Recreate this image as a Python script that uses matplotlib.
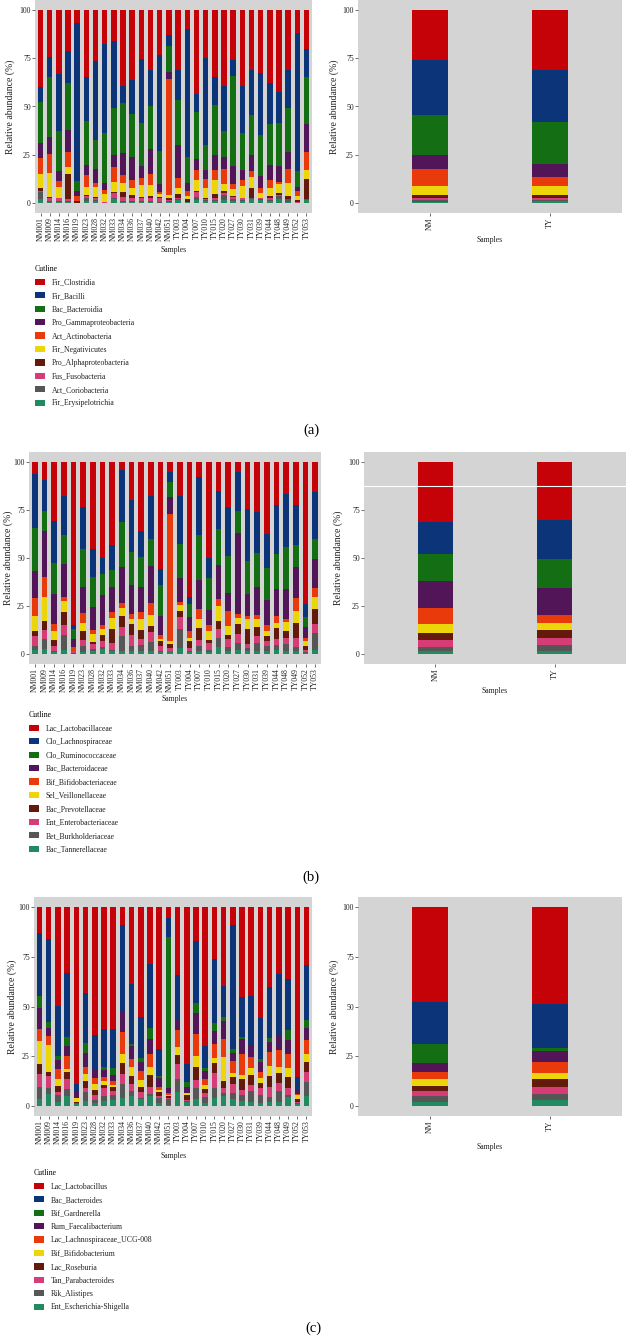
import numpy as np
import matplotlib
matplotlib.use('Agg')
import matplotlib.pyplot as plt

plt.rcParams['font.family'] = ['Liberation Serif', 'DejaVu Serif']

W, H = 626, 1337

samples = ["NM001", "NM009", "NM014", "NM016", "NM019", "NM023", "NM028", "NM032",
           "NM033", "NM034", "NM036", "NM037", "NM040", "NM042", "NM051",
           "TY003", "TY004", "TY007", "TY010", "TY015", "TY020", "TY027", "TY030",
           "TY031", "TY039", "TY044", "TY048", "TY049", "TY052", "TY053"]
groups = ["NM", "TY"]

# legend order (top of stack first)
colors = ["#C40207", "#0B3479", "#146E14", "#511558", "#E83A0A",
          "#ECD60A", "#631A0A", "#D63C76", "#565656", "#228A61"]

class_taxa = ["Fir_Clostridia", "Fir_Bacilli", "Bac_Bacteroidia", "Pro_Gammaproteobacteria",
              "Act_Actinobacteria", "Fir_Negativicutes", "Pro_Alphaproteobacteria",
              "Fus_Fusobacteria", "Act_Coriobacteria", "Fir_Erysipelotrichia"]
family_taxa = ["Lac_Lactobacillaceae", "Clo_Lachnospiraceae", "Clo_Ruminococcaceae",
               "Bac_Bacteroidaceae", "Bif_Bifidobacteriaceae", "Sel_Veillonellaceae",
               "Bac_Prevotellaceae", "Ent_Enterobacteriaceae", "Bet_Burkholderiaceae",
               "Bac_Tannerellaceae"]
genus_taxa = ["Lac_Lactobacillus", "Bac_Bacteroides", "Bif_Gardnerella", "Rum_Faecalibacterium",
              "Lac_Lachnospiraceae_UCG-008", "Bif_Bifidobacterium", "Lac_Roseburia",
              "Tan_Parabacteroides", "Rik_Alistipes", "Ent_Escherichia-Shigella"]

# rows = samples, values listed from the bottom of the stack (last taxon) up to the first taxon
class_rows = [
    [2, 4, 0.5, 1.5, 7, 8.5, 7.5, 21.5, 7.5, 40],
    [0.5, 0.5, 2, 0.3, 12.2, 10, 9, 30.5, 10.5, 24.5],
    [0.5, 0.5, 1.5, 0.5, 5.5, 3, 5, 21, 29.5, 33],
    [0.5, 0.5, 1, 13, 3.5, 8, 11.5, 24, 16.5, 21.5],
    [0, 0, 0.3, 0.7, 0, 3, 2.5, 5, 81.5, 7],
    [1, 2, 1, 0.5, 4, 6, 5.5, 22.5, 22.5, 35],
    [1, 0.5, 1.5, 0.5, 5, 2, 7, 15, 41, 26.5],
    [0, 0.3, 0.2, 0.2, 4.3, 2, 3.5, 26, 46, 17.5],
    [2, 0.5, 3, 0.5, 5, 8, 6, 24, 35, 16],
    [0.5, 0.5, 2.5, 2.5, 4.5, 4, 11.5, 26, 8.5, 39.5],
    [0.5, 0.5, 1.5, 2, 3.5, 4, 12, 22, 17.5, 36.5],
    [0.5, 0.5, 2, 0.5, 6, 3.5, 6.5, 22, 33, 25.5],
    [0.5, 0.5, 2, 1, 5.5, 5.5, 13, 22.5, 18.5, 31],
    [0, 0.5, 2.5, 0.5, 1.5, 1, 4, 17, 49.5, 23.5],
    [0.5, 0.5, 0.5, 1, 2, 59.5, 4, 13, 6, 13],
    [1.5, 0.5, 1, 2, 3, 5, 17, 23.5, 15.5, 31],
    [0.5, 0, 0, 1.5, 2, 2.5, 4, 13.5, 66, 10],
    [1.5, 2, 2.5, 0.5, 5.5, 5, 6, 24, 9.5, 43.5],
    [1, 0.5, 0.5, 0.5, 5.5, 4.5, 4.5, 13, 45, 25],
    [1, 0.5, 1, 2.5, 7, 5, 8, 26, 14, 35],
    [1.5, 3, 1, 1, 3.5, 7.5, 6.5, 13.5, 23, 39.5],
    [1, 1, 1.5, 0.5, 3.5, 2.5, 9.5, 46.5, 8, 26],
    [1, 0.5, 1, 0.5, 6, 3, 5, 19.5, 24, 39.5],
    [2, 0.5, 0.5, 5, 5.5, 3, 8.5, 20.5, 23.5, 31],
    [1.5, 0.5, 0.5, 0.5, 2.5, 2.5, 6, 21.5, 32, 32.5],
    [1, 0.5, 1.5, 1, 4, 4, 8, 21, 21, 38],
    [2, 2, 0.5, 1, 4.5, 1, 8.5, 22, 16, 42.5],
    [0.5, 1.5, 0, 2, 6.5, 7, 9, 22.5, 20, 31],
    [0, 0, 0.5, 1, 2.5, 2.5, 2, 8, 71.5, 12],
    [1.5, 0.5, 0, 10.5, 4.5, 9.5, 14.5, 24, 14.5, 20.5],
]
class_group_rows = [
    [0.5, 1, 1.5, 1.5, 4.5, 8.5, 7.5, 20.5, 28.5, 26],
    [1, 0.5, 1, 2, 4.5, 4.5, 7, 21.5, 27, 31],
]

family_rows = [
    [2.5, 2, 5, 2.5, 8, 9, 14.5, 22, 28, 6.5],
    [3, 5, 4.5, 5, 12.5, 10, 24, 10.5, 16, 9.5],
    [1, 0.5, 3, 3, 4.5, 3.5, 16, 16, 21.5, 31],
    [2.5, 7.5, 5, 7, 5.5, 2.5, 17, 15, 20, 18],
    [0, 0.5, 1, 0.5, 0, 2, 4, 5, 2, 85],
    [1, 3.5, 3, 4.5, 4.5, 5, 13.5, 19.5, 22, 23.5],
    [1.5, 1.5, 2.5, 1, 4, 2, 12, 15.5, 14.5, 45.5],
    [3, 1, 3, 3, 3, 2, 16, 10.5, 8.5, 50],
    [1.5, 1, 3.5, 7, 6, 3, 13, 9, 13, 43],
    [2, 7.5, 4.5, 6, 4, 2.5, 19, 23, 27, 4.5],
    [1.5, 3, 5.5, 5.5, 3, 2.5, 15, 17, 27, 20],
    [2, 3, 3, 4.5, 6, 3.5, 13, 15.5, 13.5, 36],
    [1.5, 5, 5, 3, 6, 6, 19.5, 14, 22, 18],
    [1, 0.5, 3, 2.5, 1, 2, 10, 16, 8.5, 55.5],
    [1.5, 0.5, 1.5, 2, 1.5, 66, 8.5, 8, 5, 5.5],
    [3.5, 9.5, 6.5, 3, 3, 1.5, 12.5, 18, 24.5, 18],
    [1, 1, 1.5, 3.5, 1.5, 3.5, 7.5, 6.5, 4, 70],
    [1.5, 3, 3, 6, 5, 5, 15, 23.5, 30, 8],
    [1, 1.5, 3.5, 1.5, 4.5, 3, 8, 16.5, 10.5, 50],
    [4, 4.5, 4.5, 4.5, 7.5, 3.5, 18, 18.5, 20, 15],
    [1.5, 2.5, 4, 2, 4.5, 8, 9.5, 19, 25.5, 23.5],
    [2.5, 3.5, 4.5, 5.5, 3, 2, 42, 11.5, 20, 5.5],
    [1.5, 2, 2, 7.5, 5.5, 1.5, 11.5, 17, 27, 24.5],
    [1.5, 4.5, 3.5, 4.5, 4.5, 2, 14.5, 17.5, 21.5, 26],
    [2, 2.5, 2.5, 2.5, 2.5, 3, 13, 17, 17.5, 37.5],
    [2.5, 2.5, 3, 5.5, 3, 3.5, 14, 18, 25.5, 22.5],
    [2, 3.5, 3, 3.5, 5, 1.5, 15.5, 21.5, 27.5, 17],
    [1.5, 2.5, 4.5, 8, 6, 6.5, 16.5, 11.5, 20.5, 22.5],
    [0.5, 0.5, 1.5, 2, 2.5, 1.5, 5.5, 5.5, 6.5, 74],
    [2.5, 8.5, 4.5, 8, 6.5, 4.5, 15, 10.5, 24, 16],
]
family_group_rows = [
    [1.5, 2.5, 3.5, 3.5, 4.5, 8.5, 14, 14, 16.5, 31.5],
    [2, 3, 3.5, 4, 4, 4, 14, 15, 20, 30.5],
]

genus_rows = [
    [3.5, 6, 6.5, 5, 11.5, 6, 10.5, 6.5, 31.5, 13],
    [6, 3, 6, 2, 13.5, 4.5, 4, 3, 42, 16],
    [2, 3.5, 1.5, 3, 3.5, 5, 4.5, 2, 25.5, 49.5],
    [5, 3.5, 5, 3.5, 1.5, 6.5, 5, 4.5, 32.5, 33],
    [1, 0.5, 0, 0.5, 2, 0, 3, 0, 4, 89],
    [2.5, 4.5, 2, 3.5, 3.5, 3.5, 7, 5, 25.5, 43],
    [1.5, 1.5, 2.5, 2.5, 3, 3, 4.5, 0, 17, 64.5],
    [2.5, 2.5, 4, 1.5, 2, 2, 3.5, 1.5, 19, 61.5],
    [3, 2.5, 2, 2, 1, 2, 3, 3.5, 19.5, 61.5],
    [4, 7, 5, 5.5, 4.5, 11, 10, 0, 44, 9],
    [5, 2.5, 3.5, 4, 4.5, 4, 6.5, 1, 30.5, 38.5],
    [3.5, 0.5, 3, 2.5, 3.5, 4.5, 4.5, 2, 20.5, 55.5],
    [5, 1, 3.5, 6, 4, 6.5, 7.5, 5.5, 32.5, 28.5],
    [1.5, 2.5, 1, 2, 1, 1.5, 4.5, 1, 13.5, 71.5],
    [0.5, 3, 0.5, 1, 0.5, 1, 2.5, 76, 9.5, 5.5],
    [7, 6.5, 7.5, 4.5, 4, 8.5, 5, 0, 23, 34],
    [2, 0.5, 0.5, 2.5, 1, 0, 3, 2.5, 9, 79],
    [3.5, 5.5, 4, 6.5, 5.5, 11, 10.5, 5.5, 31, 17],
    [1.5, 3, 2, 2, 2, 3, 4, 1.5, 11, 70],
    [4, 5, 7.5, 5, 2.5, 7, 6.5, 4, 32.5, 26],
    [5, 1.5, 2.5, 3.5, 12, 9, 9, 2, 16, 39.5],
    [3.5, 3, 4.5, 3.5, 2, 6, 4, 2, 62.5, 9],
    [2.5, 3, 2.5, 5.5, 2, 10.5, 7.5, 1, 20.5, 45],
    [2, 5.5, 3, 5, 3.5, 5.5, 6, 0, 25, 44.5],
    [1.5, 4, 3.5, 2.5, 2.5, 3, 5, 1.5, 20.5, 56],
    [2, 2.5, 5, 5.5, 5, 7, 5, 2, 26, 40],
    [2, 5.5, 4, 5, 3, 8.5, 7.5, 0, 31, 33.5],
    [4.5, 1, 3.5, 5.5, 4.5, 7, 7, 5, 26, 36],
    [1, 0.5, 0.5, 1.5, 2, 0.5, 2, 0, 6.5, 85.5],
    [5, 7, 5, 5, 4, 7, 6, 4, 28, 29],
]
genus_group_rows = [
    [2, 3, 2.5, 2.5, 3.5, 3.5, 4.5, 9.5, 21.5, 47.5],
    [3, 3, 3.5, 4, 3, 5.5, 5.5, 1.5, 22.5, 48.5],
]

BG = "#D4D4D4"
TICK = 5.6


def box(l, t, r, b):
    return [l / W, 1 - b / H, (r - l) / W, (b - t) / H]


def stacked(ax, labels, rows, width):
    vals = np.array(rows, dtype=float)
    x = np.arange(1, len(labels) + 1)
    bottom = np.zeros(len(labels))
    cols = colors[::-1]
    handles = []
    for j in range(vals.shape[1]):
        b = ax.bar(x, vals[:, j], bottom=bottom, width=width, color=cols[j], linewidth=0)
        handles.append(b)
        bottom += vals[:, j]
    ax.set_facecolor(BG)
    ax.set_xlim(0.4, len(labels) + 0.6)
    ax.set_ylim(-5, 105)
    ax.set_yticks([0, 25, 50, 75, 100])
    ax.set_xticks(x)
    ax.set_xticklabels(labels, rotation=90, fontsize=TICK)
    ax.tick_params(axis='both', length=2, width=0.5, color='#333333', pad=1,
                   labelsize=TICK, labelcolor='#222222')
    for s in ax.spines.values():
        s.set_visible(False)
    return handles[::-1]


def ylab(x, t, b):
    fig.text(x / W, 1 - (t + b) / 2 / H, "Relative abundance (%)", rotation=90,
             ha='center', va='center', fontsize=7, color='#222222')


def xlab(xc, y):
    fig.text(xc / W, 1 - y / H, "Samples", ha='center', va='center', fontsize=TICK, color='#222222')


def legend(handles, taxa, x, y):
    fig.legend(handles, taxa, loc='upper left', bbox_to_anchor=(x / W, 1 - y / H),
               frameon=False, title="Cutline", fontsize=TICK, title_fontsize=TICK,
               alignment='left', borderpad=0, borderaxespad=0, handlelength=1.3,
               handleheight=0.85, handletextpad=0.85, labelspacing=0.7, labelcolor='#222222')


fig = plt.figure(figsize=(W / 100, H / 100), dpi=100)

# (a) class level
ax = fig.add_axes(box(35, 0, 312, 213))
h = stacked(ax, samples, class_rows, 0.6)
ax = fig.add_axes(box(358, 0, 622, 213))
stacked(ax, groups, class_group_rows, 0.3)
ylab(10, 0, 213)
ylab(334, 0, 213)
xlab(174, 250)
xlab(490, 240)
legend(h, class_taxa, 35, 265)
fig.text(311 / W, 1 - 430 / H, "(a)", ha='center', va='center', fontsize=10.5)

# (b) family level
ax = fig.add_axes(box(29, 452, 321, 664))
h = stacked(ax, samples, family_rows, 0.6)
ax = fig.add_axes(box(364, 452, 626, 664))
stacked(ax, groups, family_group_rows, 0.3)
ax.axhline(87.5, color='white', linewidth=0.8)
ylab(8, 452, 664)
ylab(338, 452, 664)
xlab(175, 699)
xlab(495, 691)
legend(h, family_taxa, 29, 711)
fig.text(311 / W, 1 - 877 / H, "(b)", ha='center', va='center', fontsize=10.5)

# (c) genus level
ax = fig.add_axes(box(34, 897, 312, 1116))
h = stacked(ax, samples, genus_rows, 0.6)
ax = fig.add_axes(box(358, 897, 622, 1116))
stacked(ax, groups, genus_group_rows, 0.3)
ylab(12, 897, 1116)
ylab(334, 897, 1116)
xlab(174, 1156)
xlab(490, 1147)
legend(h, genus_taxa, 34, 1169)
fig.text(313 / W, 1 - 1328 / H, "(c)", ha='center', va='center', fontsize=10.5)

fig.savefig("out.png", dpi=100)
